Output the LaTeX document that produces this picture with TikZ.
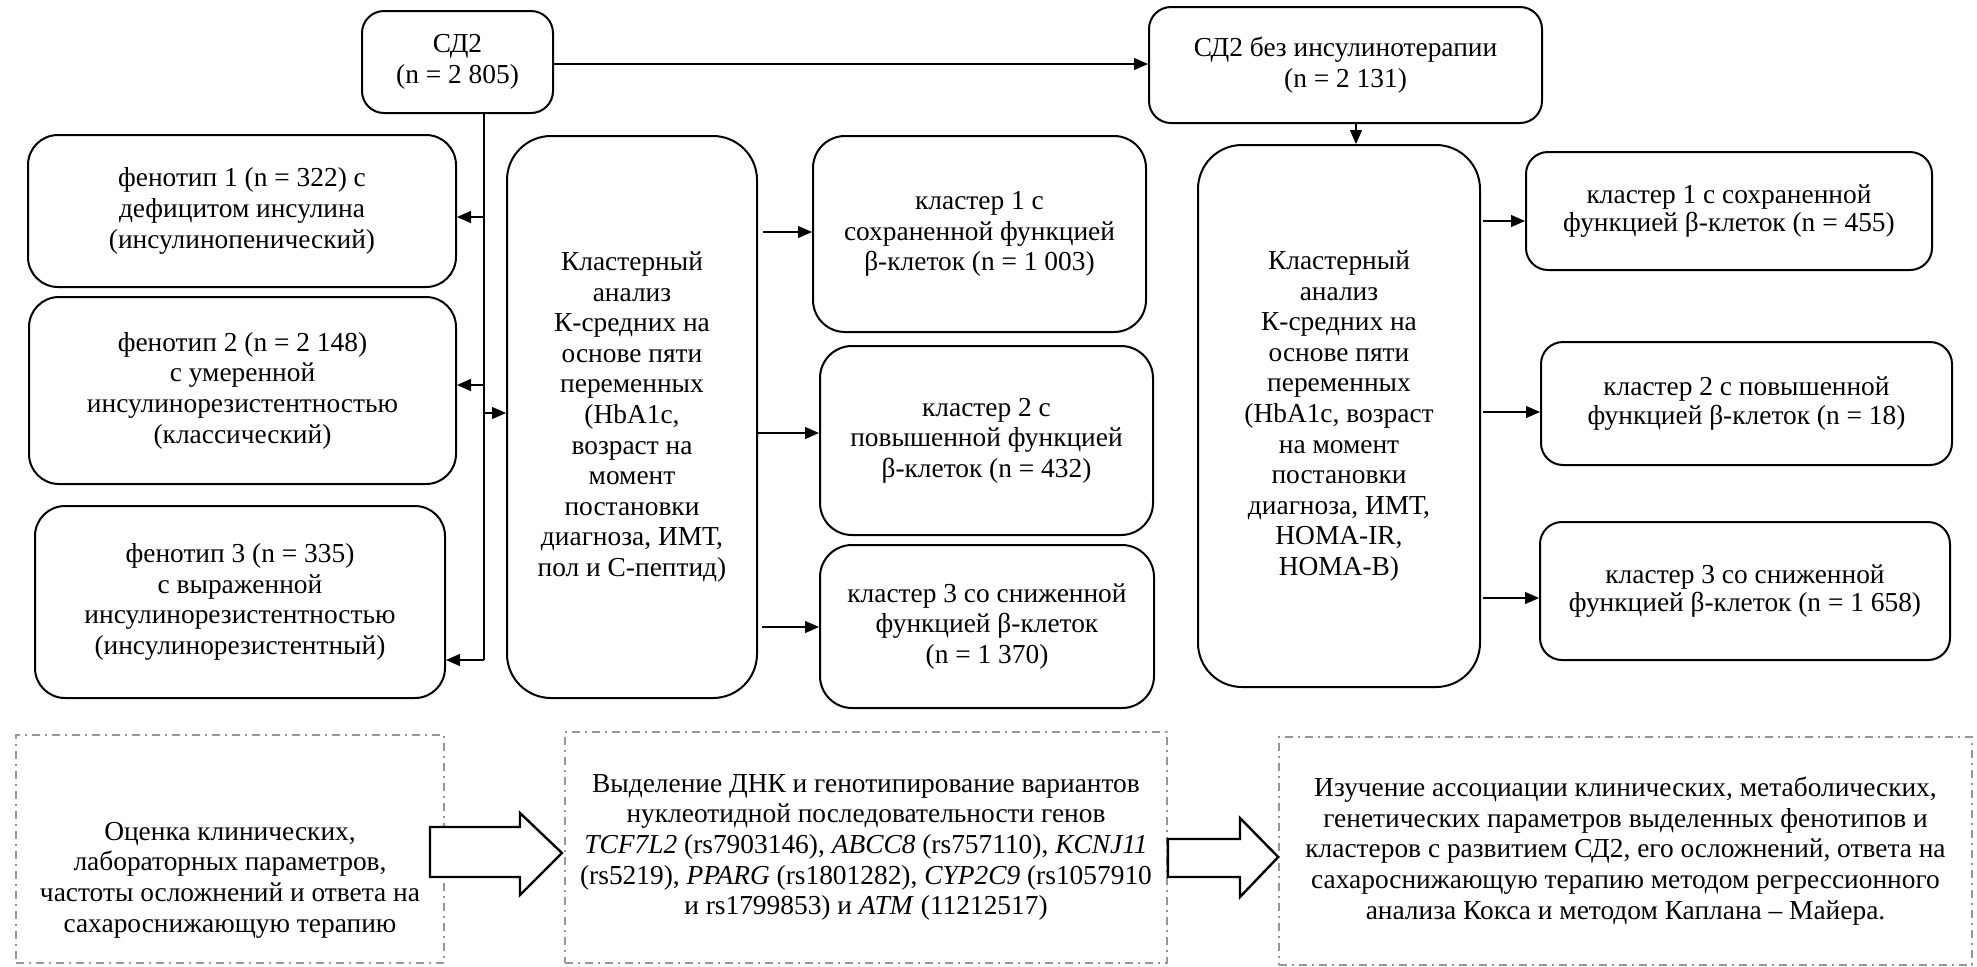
\documentclass[tikz,border=0pt]{standalone}
\usepackage{fontspec}
\setmainfont{Liberation Serif}
\newfontfamily\tnr{Liberation Serif}
\usetikzlibrary{arrows.meta}
\definecolor{dgray}{RGB}{150,150,150}
\newcommand{\fsz}{\tnr\fontsize{13.7}{15.3}\selectfont}
\newcommand{\fszr}{\tnr\fontsize{13.7}{14.2}\selectfont}
\begin{document}
\begin{tikzpicture}[x=0.5pt,y=-0.5pt,
  box/.style={draw, line width=1pt, align=center, inner sep=0pt, font=\fsz},
  arr/.style={-{Triangle[length=7pt,width=6pt]}, line width=0.6pt},
  dbox/.style={draw=dgray, line width=0.8pt, dash pattern=on 4pt off 2.5pt on 1pt off 2.5pt, align=center, inner sep=0pt, font=\fsz},
  barrow/.style={draw, fill=white, line width=1.2pt, line join=miter}]
\fill[white] (0,0) rectangle (1977,966);
\useasboundingbox (0,0) rectangle (1977,966);

% top
\node[box, rounded corners=11pt, minimum width=95.5pt, minimum height=51pt] (sd2) at (457.5,62) {СД2\\(n = 2 805)};
\node[box, rounded corners=11pt, minimum width=196.5pt, minimum height=58pt] (sdn) at (1345.5,65) {СД2 без инсулинотерапии\\(n = 2 131)};

% phenotypes
\node[box, rounded corners=15pt, minimum width=214pt, minimum height=76pt] (ph1) at (242,211) {фенотип 1 (n = 322) с\\дефицитом инсулина\\(инсулинопенический)};
\node[box, rounded corners=15pt, minimum width=213.5pt, minimum height=93.5pt] (ph2) at (242.5,390.5) {фенотип 2 (n = 2 148)\\с умеренной\\инсулинорезистентностью\\(классический)};
\node[box, rounded corners=15pt, minimum width=205pt, minimum height=96pt] (ph3) at (240,602) {фенотип 3 (n = 335)\\с выраженной\\инсулинорезистентностью\\(инсулинорезистентный)};

% left cluster analysis
\node[box, rounded corners=22pt, minimum width=125pt, minimum height=281pt] (lbig) at (632,417) {Кластерный\\анализ\\К-средних на\\основе пяти\\переменных\\(HbA1c,\\возраст на\\момент\\постановки\\диагноза, ИМТ,\\пол и С-пептид)};
\node[box, rounded corners=16pt, minimum width=166.5pt, minimum height=98pt] (c1) at (979.5,234) {кластер 1 с\\сохраненной функцией\\β-клеток (n = 1 003)};
\node[box, rounded corners=16pt, minimum width=166.5pt, minimum height=94.5pt] (c2) at (986.5,440.5) {кластер 2 с\\повышенной функцией\\β-клеток (n = 432)};
\node[box, rounded corners=16pt, minimum width=167pt, minimum height=81.5pt] (c3) at (987,626.5) {кластер 3 со сниженной\\функцией β-клеток\\(n = 1 370)};

% right cluster analysis
\node[box, rounded corners=22pt, minimum width=141pt, minimum height=271pt] (rbig) at (1339,416) {Кластерный\\анализ\\К-средних на\\основе пяти\\переменных\\(HbA1c, возраст\\на момент\\постановки\\диагноза, ИМТ,\\HOMA-IR,\\HOMA-B)};
\node[box, font=\fszr, rounded corners=11pt, minimum width=203pt, minimum height=59pt] (r1) at (1729,211) {кластер 1 с сохраненной\\функцией β-клеток (n = 455)};
\node[box, font=\fszr, rounded corners=11pt, minimum width=205.5pt, minimum height=61.5pt] (r2) at (1746.5,403.5) {кластер 2 с повышенной\\функцией β-клеток (n = 18)};
\node[box, font=\fszr, rounded corners=11pt, minimum width=205pt, minimum height=69pt] (r3) at (1745,591) {кластер 3 со сниженной\\функцией β-клеток (n = 1 658)};

% connectors
\draw[arr] (sd2.east |- 0,64) -- (sdn.west |- 0,64);
\coordinate (vtop) at (484,113);
\coordinate (vbot) at (484,660);
\coordinate (t1) at (484,217);
\coordinate (t2) at (484,385);
\coordinate (t3) at (484,413);
\draw[line width=0.6pt] (vtop) -- (vbot);
\draw[arr] (t1) -- (ph1.east |- t1);
\draw[arr] (t2) -- (ph2.east |- t2);
\draw[arr] (vbot) -- (ph3.east |- vbot);
\draw[arr] (t3) -- (lbig.west |- t3);

\coordinate (l1) at (763,232);
\coordinate (l3) at (762,627);
\draw[arr] (l1) -- (c1.west |- l1);
\draw[arr] (lbig.east |- 0,433) -- (c2.west |- 0,433);
\draw[arr] (l3) -- (c3.west |- l3);

\draw[arr] (sdn.south -| 1356,0) -- (rbig.north -| 1356,0);
\coordinate (q1) at (1483,221);
\coordinate (q2) at (1483,412);
\coordinate (q3) at (1483,598);
\draw[arr] (q1) -- (r1.west |- q1);
\draw[arr] (q2) -- (r2.west |- q2);
\draw[arr] (q3) -- (r3.west |- q3);

% bottom row
\node[dbox, minimum width=214pt, minimum height=114pt] (b1) at (230,849) {};
\node[font=\fsz, align=center] (b1t) at (230,880) {Оценка клинических,\\лабораторных параметров,\\частоты осложнений и ответа на\\сахароснижающую терапию};
\node[dbox, minimum width=301pt, minimum height=115.5pt] (b2) at (866,847.5) {Выделение ДНК и генотипирование вариантов\\нуклеотидной последовательности генов\\\textit{TCF7L2} (rs7903146), \textit{ABCC8} (rs757110), \textit{KCNJ11}\\(rs5219), \textit{PPARG} (rs1801282), \textit{CYP2C9} (rs1057910\\и rs1799853) и \textit{ATM} (11212517)};
\node[dbox, minimum width=346.5pt, minimum height=114pt] (b3) at (1625.5,851) {Изучение ассоциации клинических, метаболических,\\генетических параметров выделенных фенотипов и\\кластеров с развитием СД2, его осложнений, ответа на\\сахароснижающую терапию методом регрессионного\\анализа Кокса и методом Каплана – Майера.};

\draw[barrow] (430,827) -- (520,827) -- (520,813) -- (562,853) -- (520,895) -- (520,877) -- (430,877) -- cycle;
\draw[barrow] (b2.east |- 0,839) -- (1240,839) -- (1240,818) -- (b3.west |- 0,857) -- (1240,897) -- (1240,877) -- (b2.east |- 0,877) -- cycle;
\end{tikzpicture}
\end{document}
